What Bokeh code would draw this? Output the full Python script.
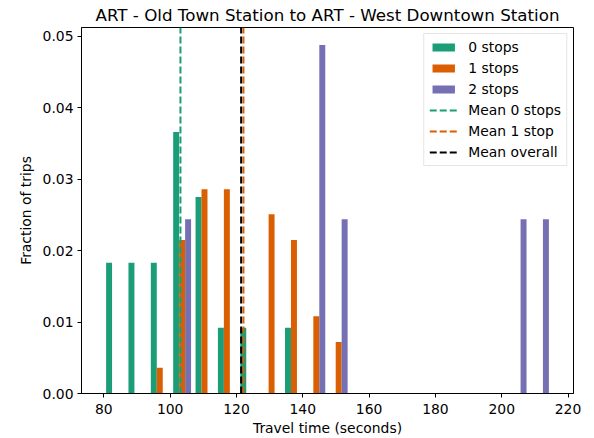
import numpy as np
from bokeh.plotting import figure
from bokeh.models import Range1d, FixedTicker, PrintfTickFormatter, Legend, LegendItem
from bokeh.embed import file_html
from bokeh.resources import INLINE

# ---- data ----
bin_start = 80.0
bin_end = 214.9
n_bins = 20
frac_0_stops = [0.0183, 0.0183, 0.0183, 0.0366, 0.0275, 0.0092, 0.0092, 0.0, 0.0092, 0.0,
                0.0, 0.0, 0.0, 0.0, 0.0, 0.0, 0.0, 0.0, 0.0, 0.0]
frac_1_stops = [0.0, 0.0, 0.0036, 0.0215, 0.0286, 0.0286, 0.0, 0.0251, 0.0215, 0.0108,
                0.0072, 0.0, 0.0, 0.0, 0.0, 0.0, 0.0, 0.0, 0.0, 0.0]
frac_2_stops = [0.0, 0.0, 0.0, 0.0244, 0.0, 0.0, 0.0, 0.0, 0.0, 0.0488,
                0.0244, 0.0, 0.0, 0.0, 0.0, 0.0, 0.0, 0.0, 0.0244, 0.0244]
series_labels = ["0 stops", "1 stops", "2 stops"]
series_colors = ["#1b9e77", "#d95f02", "#7570b3"]
mean_0_stops = 103.1
mean_1_stop = 122.1
mean_overall = 121.4
x_ticks = [80, 100, 120, 140, 160, 180, 200, 220]
y_ticks = [0.0, 0.01, 0.02, 0.03, 0.04, 0.05]

# ---- layout helpers (matplotlib-like grouped histogram) ----
edges = np.linspace(bin_start, bin_end, n_bins + 1)
dw = edges[1] - edges[0]
bar_w = 0.8 * dw / 3
span = bin_end - bin_start
x0, x1 = bin_start - 0.05 * span, bin_end + 0.05 * span
ymax = max(frac_0_stops + frac_1_stops + frac_2_stops) * 1.05

W, H = 594, 438
p = figure(width=W, height=H, output_backend="svg", toolbar_location=None,
           x_range=Range1d(x0, x1), y_range=Range1d(0, ymax),
           min_border_left=81, min_border_right=W - 573, min_border_top=26,
           min_border_bottom=H - 393)

FONT = "DejaVu Sans"
FS = "13.9px"
p.title.text = "ART - Old Town Station to ART - West Downtown Station"
p.title.text_font = FONT
p.title.text_font_size = "16.7px"
p.title.text_font_style = "normal"
p.title.text_color = "black"
p.title.align = "center"
p.title.standoff = 5

p.xgrid.visible = False
p.ygrid.visible = False
p.outline_line_color = "black"
p.outline_line_alpha = 1.0

for ax in (p.xaxis[0], p.yaxis[0]):
    ax.axis_line_color = "black"
    ax.major_tick_line_color = "black"
    ax.minor_tick_line_color = None
    ax.major_tick_out = 4
    ax.major_tick_in = 0
    ax.major_label_text_font = FONT
    ax.major_label_text_font_size = FS
    ax.major_label_text_color = "black"
    ax.axis_label_text_font = FONT
    ax.axis_label_text_font_size = FS
    ax.axis_label_text_font_style = "normal"
    ax.axis_label_text_color = "black"

p.xaxis.ticker = FixedTicker(ticks=x_ticks)
p.yaxis.ticker = FixedTicker(ticks=y_ticks)
p.yaxis.formatter = PrintfTickFormatter(format="%.2f")
p.xaxis.axis_label = "Travel time (seconds)"
p.yaxis.axis_label = "Fraction of trips"
p.xaxis.axis_label_standoff = 3
p.yaxis.axis_label_standoff = 6
p.xaxis.major_label_standoff = 6
p.yaxis.major_label_standoff = 4

items = []
for i, (vals, lab, col) in enumerate(zip([frac_0_stops, frac_1_stops, frac_2_stops],
                                          series_labels, series_colors)):
    vals = np.array(vals)
    centers = edges[:-1] + 0.1 * dw + (i + 0.5) * bar_w
    mask = vals > 0
    r = p.vbar(x=centers[mask], top=vals[mask], bottom=0, width=bar_w,
               fill_color=col, line_color=None)
    items.append(LegendItem(label=lab, renderers=[r]))

for m, lab, col in [(mean_0_stops, "Mean 0 stops", series_colors[0]),
                    (mean_1_stop, "Mean 1 stop", series_colors[1]),
                    (mean_overall, "Mean overall", "black")]:
    r = p.line(x=[m, m], y=[0, ymax], line_color=col, line_width=2, line_dash="7 3")
    items.append(LegendItem(label=lab, renderers=[r]))

legend = Legend(items=items, location="top_right")
legend.label_text_font = FONT
legend.label_text_font_size = FS
legend.label_text_color = "black"
legend.glyph_width = 28
legend.glyph_height = 10
legend.label_height = 16
legend.label_standoff = 11
legend.spacing = 5
legend.padding = 5
legend.margin = 6
legend.border_line_color = "#cccccc"
legend.border_line_width = 1
legend.background_fill_alpha = 0.8
p.add_layout(legend)

open("out.html", "w").write(file_html(p, INLINE))
